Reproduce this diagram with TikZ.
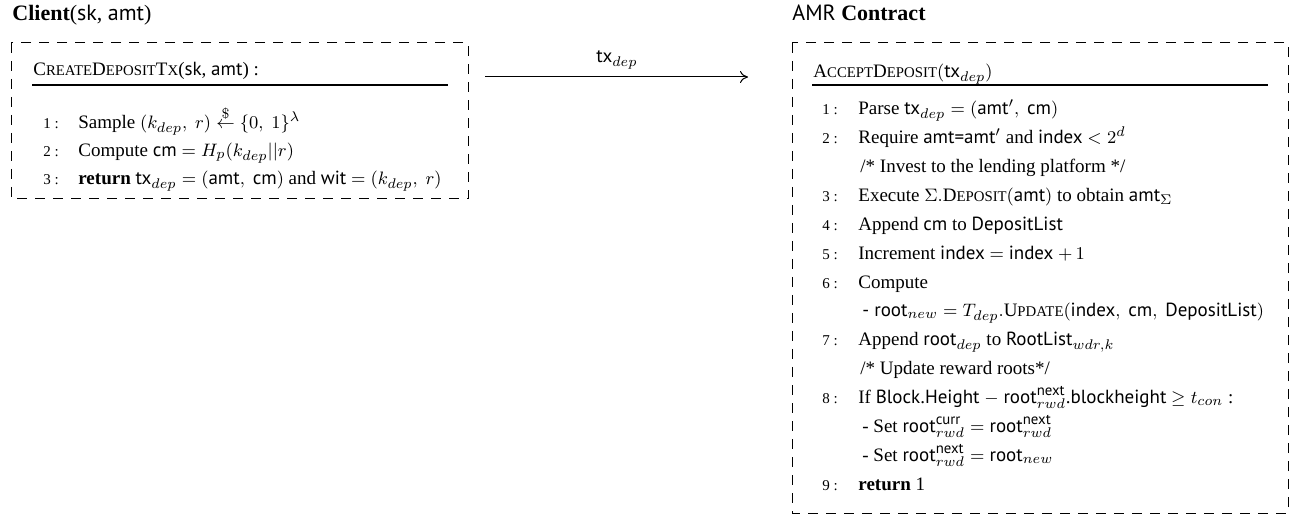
\documentclass[tikz,border=0pt]{standalone}
\usepackage{amsmath}
\usepackage{fontspec}
\setmainfont{Liberation Serif}
\setsansfont{PT Sans}
\usetikzlibrary{arrows.meta}
\DeclareMathSizes{9.5}{9.5}{7.4}{6}
\newcommand\fsc[1]{{\fontsize{7.4}{8}\selectfont #1}}
\newcommand\sa[1]{\textsf{#1}}
\tikzset{
  txt/.style={anchor=base west, inner sep=0pt, font=\fontsize{9.5}{11}\selectfont},
  num/.style={anchor=base west, inner sep=0pt, font=\fontsize{7.5}{9}\selectfont},
  ttl/.style={anchor=base west, inner sep=0pt, font=\fontsize{11}{13}\selectfont},
  frame/.style={draw, dash pattern=on 5pt off 4pt, line width=0.5pt},
  hrule/.style={draw, line width=0.6pt},
  msg/.style={-{To[length=4pt,width=6pt]}, line width=0.5pt}
}
\begin{document}
\begin{tikzpicture}[x=0.5pt,y=-0.5pt]
\useasboundingbox (0,0) rectangle (1294,523);
% ---------- Client ----------
\node[ttl] (ctitle) at (12,21) {\textbf{Client}(\sa{sk}, \sa{amt})};
\draw[frame] (11,43) rectangle (468,199);
\node[txt] (cproc) at (33,76) {C\fsc{REATE}D\fsc{EPOSIT}T\fsc{X}(\sa{sk}, \sa{amt}) :};
\draw[hrule] (32,85) -- (448,85);
\node[num] (cn1) at (43,129) {1 :};
\node[txt] (cl1) at (78,129) {Sample $(k_{dep},\ r) \stackrel{\$}{\leftarrow} \{0,\ 1\}^{\lambda}$};
\node[num] (cn2) at (43,157) {2 :};
\node[txt] (cl2) at (78,157) {Compute \sa{cm} $= H_p(k_{dep}||r)$};
\node[num] (cn3) at (43,185) {3 :};
\node[txt] (cl3) at (78,185) {\textbf{return} $\textsf{tx}_{dep} = (\textsf{amt},\ \textsf{cm})$ and \sa{wit} $= (k_{dep},\ r)$};
% ---------- message ----------
\coordinate (ms) at (485,77);
\coordinate (me) at (748,77);
\draw[msg] (ms) -- (me);
\node[anchor=base, inner sep=0pt, font=\fontsize{9.5}{11}\selectfont] (mlabel) at (617,63) {$\textsf{tx}_{dep}$};
% ---------- Contract ----------
\node[ttl] (atitle) at (792,21) {\sa{AMR} \textbf{Contract}};
\draw[frame] (792,43) rectangle (1288,513);
\node[txt] (aproc) at (813,78) {A\fsc{CCEPT}D\fsc{EPOSIT}$(\textsf{tx}_{dep})$};
\draw[hrule] (812,85) -- (1268,85);
\node[num] (an1) at (822,115) {1 :};
\node[txt] (al1) at (858,115) {Parse $\textsf{tx}_{dep} = (\textsf{amt}',\ \textsf{cm})$};
\node[num] (an2) at (822,143.85) {2 :};
\node[txt] (al2) at (858,143.85) {Require \sa{amt=amt}$'$ and \sa{index} $< 2^{d}$};
\node[txt] (ac1) at (860,172.7) {/* Invest to the lending platform */};
\node[num] (an3) at (822,201.55) {3 :};
\node[txt] (al3) at (858,201.55) {Execute $\Sigma.$D\fsc{EPOSIT}$(\textsf{amt})$ to obtain \sa{amt}$_{\Sigma}$};
\node[num] (an4) at (822,230.4) {4 :};
\node[txt] (al4) at (858,230.4) {Append \sa{cm} to \sa{DepositList}};
\node[num] (an5) at (822,259.25) {5 :};
\node[txt] (al5) at (858,259.25) {Increment \sa{index} $=$ \sa{index} $+\,1$};
\node[num] (an6) at (822,288.1) {6 :};
\node[txt] (al6) at (858,288.1) {Compute};
\node[txt] (as6) at (862,316.95) {\sa{- root}$_{new} = T_{dep}.$U\fsc{PDATE}$(\textsf{index},\ \textsf{cm},\ \textsf{DepositList})$};
\node[num] (an7) at (822,345.8) {7 :};
\node[txt] (al7) at (858,345.8) {Append \sa{root}$_{dep}$ to \sa{RootList}$_{wdr,k}$};
\node[txt] (ac2) at (860,374.65) {/* Update reward roots*/};
\node[num] (an8) at (822,403.5) {8 :};
\node[txt] (al8) at (858,403.5) {If \sa{Block}.\sa{Height} $-$ \sa{root}$^{\textsf{next}}_{rwd}$.\sa{blockheight} $\geq t_{con}$ :};
\node[txt] (as8a) at (862,432.35) {- Set \sa{root}$^{\textsf{curr}}_{rwd} = \textsf{root}^{\textsf{next}}_{rwd}$};
\node[txt] (as8b) at (862,461.2) {- Set \sa{root}$^{\textsf{next}}_{rwd} = \textsf{root}_{new}$};
\node[num] (an9) at (822,490) {9 :};
\node[txt] (al9) at (858,490) {\textbf{return} 1};
\end{tikzpicture}
\end{document}
